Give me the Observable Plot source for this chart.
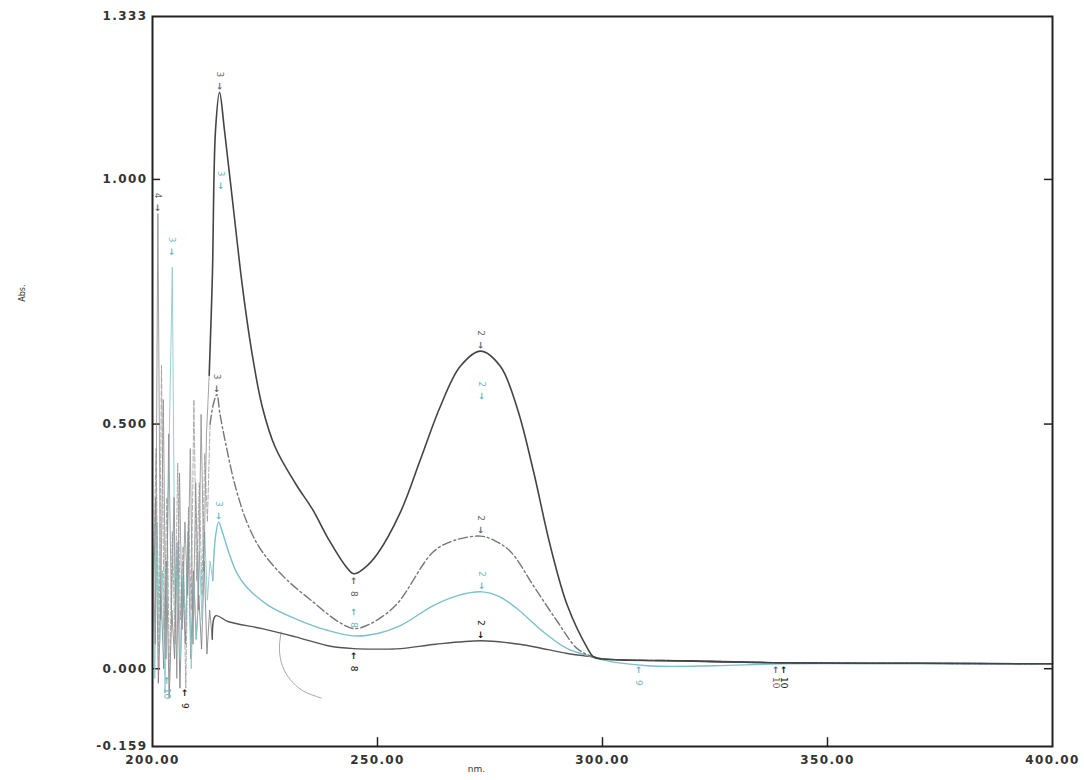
<!DOCTYPE html>
<html>
<head>
<meta charset="utf-8">
<script src="https://cdn.jsdelivr.net/npm/d3@7"></script>
<script src="https://cdn.jsdelivr.net/npm/@observablehq/plot@0.6"></script>
<style>
  html, body { margin: 0; padding: 0; background: #fff; }
  #chart { width: 1084px; height: 780px; }
</style>
</head>
<body>
<div id="chart"></div>
<script>
// ---- axis ticks ----
const yTickValues = [-0.159, 0, 0.5, 1, 1.333];
const yInnerTicks = [0, 0.5, 1];
const xTickValues = [200, 250, 300, 350, 400];
const xInnerTicks = [250, 300, 350];

// ---- trace A: solid dark (highest) ----
const aNm  = [200,200.6,201.2,201.8,202.4,203,203.6,204.2,204.8,205.4,206,206.6,207.2,207.8,208.4,209,209.6,210.2,210.8,211.4,212,212.6,213.3,214,214.9,216,218,220,222.2,224.4,227.3,231.8,235.6,239.1,242.9,244.7,247,250,255.1,259.6,264,268.4,272.9,277.3,281.1,284.7,288.4,292.2,296.7,298,300,320,340,370,400];
const aAbs = [0.30,0.05,0.93,0.10,0.55,0.02,0.48,0.12,0.35,-0.02,0.40,0.08,0.30,0.15,0.45,0.05,0.38,0.12,0.52,0.20,0.48,0.60,0.80,1.10,1.178,1.10,0.939,0.78,0.640,0.535,0.452,0.378,0.325,0.265,0.21,0.194,0.205,0.235,0.32,0.429,0.537,0.618,0.649,0.618,0.531,0.402,0.251,0.129,0.041,0.024,0.020,0.016,0.012,0.011,0.010];

// ---- trace B: dash-dot grey ----
const bNm  = [200,200.8,201.4,202,202.6,203.2,203.8,204.4,205,205.6,206.2,206.8,207.4,208,208.6,209.2,209.8,210.4,211,211.6,212.2,212.8,213.5,214.3,215,216.2,218.4,221.3,224.4,229.6,235.6,241.3,244.7,248,254,262.4,267,272.9,276,279.6,284.7,290,294.4,298,300,320,340,370,400];
const bAbs = [0.10,0.45,0.00,0.62,0.08,0.35,-0.03,0.28,0.05,0.42,0.10,0.25,-0.04,0.33,0.12,0.55,0.18,0.38,0.15,0.44,0.30,0.50,0.54,0.56,0.52,0.463,0.373,0.292,0.239,0.184,0.137,0.096,0.082,0.09,0.129,0.239,0.262,0.271,0.262,0.239,0.169,0.096,0.041,0.024,0.020,0.016,0.012,0.011,0.010];

// ---- trace C: cyan solid ----
const cNm  = [200,200.5,201,201.6,202.2,202.8,203.4,204.4,205,205.6,206.2,206.8,207.4,208,208.6,209.2,209.8,210.4,211,211.6,212.2,212.8,213.4,214,214.7,215.5,216.9,218.5,220.7,225.8,231.8,239,244.7,250,255.1,262.4,268,273.3,277,281.1,286.9,292.2,298,300,310,325,340,370,400];
const cAbs = [0.25,-0.02,0.30,0.05,0.20,-0.05,0.30,0.82,0.10,0.26,0.02,0.22,0.08,0.30,0.00,0.18,0.06,0.24,0.10,0.28,0.14,0.22,0.18,0.27,0.30,0.28,0.239,0.20,0.169,0.129,0.102,0.078,0.067,0.072,0.088,0.129,0.150,0.157,0.148,0.122,0.075,0.041,0.024,0.018,0.006,0.006,0.010,0.010,0.010];

// ---- trace D: solid dark (lowest) ----
const dNm  = [200,200.7,201.3,201.9,202.5,203.1,203.7,204.3,204.9,205.5,206.1,206.7,207.3,207.9,208.5,209.1,209.7,210.3,210.9,211.5,212.1,212.7,213.3,214,216.9,224.4,231.8,239,244.7,250,255.1,263,272.9,279,284.7,292.2,298,300,320,340,370,400];
const dAbs = [0.05,0.35,-0.03,0.15,0.00,0.22,-0.06,0.12,0.02,0.25,-0.04,0.18,0.05,0.28,0.02,0.20,0.06,0.15,0.04,0.22,0.03,0.12,0.06,0.108,0.096,0.082,0.065,0.047,0.041,0.040,0.041,0.050,0.057,0.053,0.045,0.031,0.024,0.020,0.015,0.012,0.011,0.010];

// wavelength where each trace leaves the noisy low-UV region
const noiseEnd = {A: 212.6, B: 212.8, C: 213.4, D: 213.3};

// ---- stray pen arc on the scan ----
const arcNm  = [228.6,228.2,228.9,230.6,233.4,237.5];
const arcAbs = [0.075,0.040,0.005,-0.022,-0.045,-0.060];

// ---- peak-pick labels (number, wavelength, absorbance, trace) ----
const peakNum    = ["3","3","3","3","2","2","2","2","2","4","3"];
const peakNm     = [214.9,215.2,214.3,214.7,272.9,273.2,272.9,273.3,272.9,201.2,204.4];
const peakAbs    = [1.178,0.975,0.56,0.30,0.649,0.545,0.271,0.157,0.057,0.93,0.84];
const peakTrace  = ["grey","cyan","grey","cyan","grey","cyan","grey","cyan","black","grey","cyan"];

const valleyNum   = ["8","8","8","9","10","10","9","10"];
const valleyNm    = [244.7,244.7,244.7,308,338.6,340.2,207.3,203.2];
const valleyAbs   = [0.194,0.130,0.041,0.012,0.012,0.012,-0.035,-0.01];
const valleyTrace = ["grey","cyan","black","cyan","grey","black","black","cyan"];

function rows(nm, abs, name) { return nm.map((x, i) => ({nm: x, abs: abs[i], trace: name})); }
const traceA = rows(aNm, aAbs, "A");
const traceB = rows(bNm, bAbs, "B");
const traceC = rows(cNm, cAbs, "C");
const traceD = rows(dNm, dAbs, "D");
const noisy = t => t.filter(d => d.nm <= noiseEnd[d.trace]);
const smooth = t => t.filter(d => d.nm >= noiseEnd[d.trace]);
const arc = rows(arcNm, arcAbs, "arc");
const peaks = peakNum.map((t, i) => ({t, nm: peakNm[i], abs: peakAbs[i], trace: peakTrace[i]}));
const valleys = valleyNum.map((t, i) => ({t, nm: valleyNm[i], abs: valleyAbs[i], trace: valleyTrace[i]}));

const colorOf = {grey: "#666", cyan: "#6fb9c3", black: "#111"};

const chart = Plot.plot({
  width: 1084,
  height: 780,
  marginLeft: 152,
  marginRight: 32,
  marginTop: 16,
  marginBottom: 34,
  x: {domain: [200, 400]},
  y: {domain: [-0.159, 1.333]},
  style: {fontFamily: "'DejaVu Sans', sans-serif", fontSize: "11px", fontWeight: "bold", color: "#333", background: "#fff"},
  marks: [
    Plot.axisY({ticks: yTickValues, tickFormat: d => d.toFixed(3), tickSize: 0, tickPadding: 5, label: null}),
    Plot.axisX({ticks: xTickValues, tickFormat: d => d.toFixed(2), tickSize: 0, tickPadding: 9, label: null}),
    Plot.ruleY(yInnerTicks, {x1: 200, x2: 201.8, stroke: "#222", strokeWidth: 1.5}),
    Plot.ruleY(yInnerTicks, {x1: 398.2, x2: 400, stroke: "#222", strokeWidth: 1.5}),
    Plot.ruleX(xInnerTicks, {y1: -0.159, y2: -0.141, stroke: "#222", strokeWidth: 1.5}),
    Plot.line(arc, {x: "nm", y: "abs", stroke: "#aaa", strokeWidth: 1, curve: "natural"}),
    // noisy low-UV part: thin and pale
    Plot.line(noisy(traceD), {x: "nm", y: "abs", stroke: "#777", strokeWidth: 0.8, curve: "linear"}),
    Plot.line(noisy(traceC), {x: "nm", y: "abs", stroke: "#8cc8d0", strokeWidth: 0.9, curve: "linear"}),
    Plot.line(noisy(traceB), {x: "nm", y: "abs", stroke: "#999", strokeWidth: 0.8, strokeDasharray: "5,2", curve: "linear"}),
    Plot.line(noisy(traceA), {x: "nm", y: "abs", stroke: "#8a8a8a", strokeWidth: 0.8, curve: "linear"}),
    // main traces
    Plot.line(smooth(traceD), {x: "nm", y: "abs", stroke: "#555", strokeWidth: 1.4, curve: "catmull-rom"}),
    Plot.line(smooth(traceC), {x: "nm", y: "abs", stroke: "#7cc0c9", strokeWidth: 1.4, curve: "catmull-rom"}),
    Plot.line(smooth(traceB), {x: "nm", y: "abs", stroke: "#777", strokeWidth: 1.4, strokeDasharray: "9,3,2,3", curve: "catmull-rom"}),
    Plot.line(smooth(traceA), {x: "nm", y: "abs", stroke: "#444", strokeWidth: 1.6, curve: "catmull-rom"}),
    // peak labels: arrow pointing down + number above
    Plot.text(peaks, {x: "nm", y: "abs", text: () => "\u2192", rotate: 90, dy: -6, fontSize: 9, fontWeight: "bold", fill: d => colorOf[d.trace]}),
    Plot.text(peaks, {x: "nm", y: "abs", text: "t", rotate: 90, dy: -18, fontSize: 9, fontWeight: "normal", fill: d => colorOf[d.trace]}),
    // valley labels: arrow pointing up + number below
    Plot.text(valleys, {x: "nm", y: "abs", text: () => "\u2190", rotate: 90, dy: 7, fontSize: 9, fontWeight: "bold", fill: d => colorOf[d.trace]}),
    Plot.text(valleys, {x: "nm", y: "abs", text: "t", rotate: 90, dy: 20, fontSize: 9, fontWeight: "normal", fill: d => colorOf[d.trace]}),
    Plot.frame({stroke: "#222", strokeWidth: 2}),
    Plot.text(["nm."], {x: 272, frameAnchor: "bottom", dy: 25, fontSize: 9, fontWeight: "normal", fill: "#333"}),
    Plot.text(["Abs."], {y: 0.75, frameAnchor: "left", dx: -130, rotate: -90, fontSize: 8, fontWeight: "normal", fill: "#333"})
  ]
});
// widen the tick-label lettering like the instrument printout
chart.querySelectorAll('g[aria-label="y-axis tick label"], g[aria-label="x-axis tick label"]').forEach(g => {
  g.style.letterSpacing = "1.4px";
  g.style.fontSize = "12px";
});
document.getElementById("chart").appendChild(chart);
</script>
</body>
</html>
